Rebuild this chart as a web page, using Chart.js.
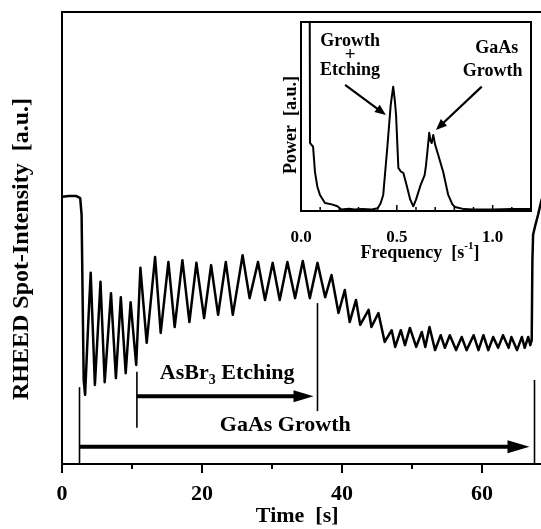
<!DOCTYPE html>
<html>
<head>
<meta charset="utf-8">
<script src="https://cdn.jsdelivr.net/npm/chart.js@4.4.0/dist/chart.umd.min.js"></script>
<style>
html,body{margin:0;padding:0;background:#fff;overflow:hidden;}
#wrap{position:relative;width:541px;height:529px;overflow:hidden;}
#main{position:absolute;left:0;top:0;}
#inset{position:absolute;left:270px;top:15px;}
</style>
</head>
<body>
<div id="wrap">
<canvas id="main" width="561" height="529"></canvas>
<canvas id="inset" width="271" height="250"></canvas>
</div>
<script>
// RHEED trace, time in s, intensity in a.u. (0..100 = plot height)
const time = [0,1,2,2.6,2.8,2.95,3.1,3.3,3.7,4.1,4.7,5.5,6.1,7.0,7.7,8.4,9.1,9.8,10.6,11.2,
  12.1,13.3,14.1,15.2,16.1,17.2,18.2,19.2,20.3,21.3,22.3,23.4,24.4,25.8,26.8,28.0,29.0,30.1,31.1,32.2,
  33.3,34.4,35.4,36.5,37.6,38.5,39.5,40.4,41.1,42.0,42.6,43.8,44.2,45.2,46.1,47.1,47.6,48.4,49.0,49.7,
  50.6,51.4,51.9,52.5,53.3,54.1,54.7,55.4,56.3,57.1,57.8,58.8,59.5,60.2,60.9,61.6,62.3,63.0,63.8,64.2,
  65.0,65.7,66.1,66.6,66.9,67.1,67.2,67.3,67.6,68.0,68.5,69.5];
const intensity = [59.1,59.3,59.3,58.8,55.1,36.3,18.6,15.3,29.6,42.3,17.5,40.3,18.1,37.8,19.0,36.9,20.1,35.8,21.9,43.4,
  26.8,45.8,29.0,44.7,30.3,45.1,31.4,44.5,32.3,44.0,33.0,44.7,33.0,46.2,36.7,44.7,36.3,44.5,36.3,44.7,
  36.7,44.9,36.7,44.5,36.9,41.8,33.4,38.5,31.4,36.3,30.8,34.1,30.3,33.4,27.0,29.6,25.9,29.6,26.3,30.1,
  25.9,29.2,25.9,30.3,25.2,28.5,25.7,28.5,25.2,28.1,25.2,28.5,25.2,28.5,25.2,28.1,25.7,28.5,25.7,28.1,
  25.2,28.1,25.7,28.1,26.3,27.4,45.1,50.7,52.7,55.1,58.4,61.7];
const timeTicks = [0,20,40,60];

// inset: power spectrum
const freq = [0.045,0.047,0.055,0.063,0.073,0.085,0.099,0.125,0.16,0.19,0.21,0.25,0.28,0.32,0.37,0.40,0.415,0.429,
  0.45,0.468,0.481,0.49,0.496,0.508,0.52,0.534,0.55,0.57,0.586,0.60,0.625,0.645,0.652,0.66,0.669,0.676,0.682,0.69,
  0.70,0.716,0.742,0.768,0.79,0.803,0.85,0.9,1.0,1.1,1.2];
const power = [130,36,35,34,20.6,13,8.5,4.2,3.5,2.5,0.8,1.2,0.8,1.0,0.8,1.5,4,8.5,
  33.3,56,65.8,58,50.8,22.8,21,20.1,14,6,2.5,6,14,19,24,32,41.4,37,36,40.2,
  35,29.6,20.6,8.5,3.5,2.1,1.0,0.8,0.8,1.0,1.0];
const freqTicks = [0.0,0.5,1.0];

// event times for the marker lines / arrows
const growthTimes = [2.5, 67.5];
const etchTimes = [10.7, 36.5];

const FONT = "'Liberation Serif','Times New Roman',serif";

function arrow(ctx,x1,y,x2,w,hl,hh){
  ctx.lineWidth = w;
  ctx.beginPath(); ctx.moveTo(x1,y); ctx.lineTo(x2-hl+2,y); ctx.stroke();
  ctx.beginPath(); ctx.moveTo(x2,y); ctx.lineTo(x2-hl,y-hh); ctx.lineTo(x2-hl,y+hh); ctx.closePath(); ctx.fill();
}
function arrowTo(ctx,x1,y1,x2,y2,w,hl,hh){
  const a = Math.atan2(y2-y1,x2-x1);
  ctx.save(); ctx.translate(x2,y2); ctx.rotate(a);
  const len = Math.hypot(x2-x1,y2-y1);
  ctx.lineWidth = w;
  ctx.beginPath(); ctx.moveTo(-len,0); ctx.lineTo(-hl+1,0); ctx.stroke();
  ctx.beginPath(); ctx.moveTo(0,0); ctx.lineTo(-hl,-hh); ctx.lineTo(-hl,hh); ctx.closePath(); ctx.fill();
  ctx.restore();
}
function vline(ctx,x,y1,y2){
  ctx.lineWidth = 1.6;
  ctx.beginPath(); ctx.moveTo(x,y1); ctx.lineTo(x,y2); ctx.stroke();
}

const mainDecor = {
  id:'mainDecor',
  afterDraw(chart){
    const ctx = chart.ctx, a = chart.chartArea, xs = chart.scales.x, ys = chart.scales.y;
    ctx.save();
    ctx.strokeStyle = '#000'; ctx.fillStyle = '#000';
    // frame
    ctx.lineWidth = 2;
    ctx.beginPath();
    ctx.moveTo(a.right,a.top); ctx.lineTo(a.left,a.top); ctx.lineTo(a.left,a.bottom); ctx.lineTo(a.right,a.bottom);
    ctx.stroke();
    // ticks
    xs.ticks.forEach(t=>{
      const px = xs.getPixelForValue(t.value);
      const len = timeTicks.includes(t.value) ? 9 : 5;
      ctx.beginPath(); ctx.moveTo(px,a.bottom); ctx.lineTo(px,a.bottom+len); ctx.stroke();
    });
    // GaAs growth
    const g0 = xs.getPixelForValue(growthTimes[0]), g1 = xs.getPixelForValue(growthTimes[1]);
    vline(ctx,g0,a.bottom,ys.getPixelForValue(17));
    vline(ctx,g1,a.bottom,ys.getPixelForValue(18.6));
    arrow(ctx,g0,ys.getPixelForValue(3.8),g1-5,4,22,6.5);
    // AsBr3 etching
    const e0 = xs.getPixelForValue(etchTimes[0]), e1 = xs.getPixelForValue(etchTimes[1]);
    vline(ctx,e0,ys.getPixelForValue(20.4),ys.getPixelForValue(8));
    vline(ctx,e1,ys.getPixelForValue(35.6),ys.getPixelForValue(11.7));
    arrow(ctx,e0,ys.getPixelForValue(15),e1-4,4,20,6);
    // texts
    ctx.textBaseline = 'middle'; ctx.textAlign = 'center';
    ctx.font = 'bold 22px ' + FONT;
    ctx.fillText('GaAs Growth', xs.getPixelForValue(31.9), ys.getPixelForValue(8.6));
    const big = 'bold 22px ' + FONT, small = 'bold 14px ' + FONT;
    ctx.font = big; const w1 = ctx.measureText('AsBr').width, w3 = ctx.measureText(' Etching').width;
    ctx.font = small; const w2 = ctx.measureText('3').width;
    let x = xs.getPixelForValue(23.6) - (w1+w2+w3)/2, y = ys.getPixelForValue(20.1);
    ctx.textAlign = 'left';
    ctx.font = big; ctx.fillText('AsBr', x, y);
    ctx.font = small; ctx.fillText('3', x+w1, y+7);
    ctx.font = big; ctx.fillText(' Etching', x+w1+w2, y);
    // axis titles
    ctx.textAlign = 'center';
    ctx.fillText('Time  [s]', xs.getPixelForValue(33.6), 516);
    ctx.font = 'bold 24px ' + FONT;
    ctx.translate(22,249); ctx.rotate(-Math.PI/2);
    ctx.fillText('RHEED Spot-Intensity  [a.u.]', 0, 0);
    ctx.restore();
  }
};

new Chart(document.getElementById('main'), {
  type:'line',
  data:{datasets:[{
    data: time.map((t,i)=>({x:t,y:intensity[i]})),
    borderColor:'#000', borderWidth:2.5, pointRadius:0, tension:0, borderJoinStyle:'round', fill:false
  }]},
  options:{
    responsive:false, animation:false, devicePixelRatio:1,
    layout:{padding:{top:12,right:9,left:0,bottom:0}},
    plugins:{legend:{display:false},tooltip:{enabled:false}},
    scales:{
      x:{type:'linear',min:0,max:70,grid:{display:false},border:{display:false},
        ticks:{stepSize:10,autoSkip:false,maxRotation:0,padding:9,color:'#000',
          font:{family:FONT,size:22,weight:'bold'},
          callback:v=>timeTicks.includes(v)?String(v):''},
        afterFit:s=>{s.height=65;}},
      y:{min:0,max:100,grid:{display:false},border:{display:false},ticks:{display:false},
        afterFit:s=>{s.width=62;}}
    }
  },
  plugins:[mainDecor]
});

const insetDecor = {
  id:'insetDecor',
  afterDraw(chart){
    const ctx = chart.ctx, a = chart.chartArea, xs = chart.scales.x, ys = chart.scales.y;
    ctx.save();
    ctx.strokeStyle = '#000'; ctx.fillStyle = '#000';
    ctx.lineWidth = 2;
    ctx.strokeRect(a.left,a.top,a.right-a.left,a.bottom-a.top);
    ctx.lineWidth = 1.5;
    xs.ticks.forEach(t=>{
      const px = xs.getPixelForValue(t.value);
      const major = freqTicks.some(f=>Math.abs(f-t.value)<1e-6);
      ctx.beginPath(); ctx.moveTo(px,a.bottom); ctx.lineTo(px,a.bottom-(major?6:4)); ctx.stroke();
    });
    // labels + arrows
    ctx.textAlign = 'center'; ctx.textBaseline = 'middle';
    ctx.font = 'bold 18px ' + FONT;
    const fx = v=>xs.getPixelForValue(v), py = v=>ys.getPixelForValue(v);
    ctx.fillText('Growth', fx(0.256), py(89.6));
    ctx.fillText('Etching', fx(0.256), py(74.6));
    ctx.fillText('GaAs', fx(1.021), py(86.2));
    ctx.fillText('Growth', fx(1.0), py(73.7));
    ctx.font = 'bold 19px ' + FONT;
    ctx.fillText('+', fx(0.256), py(82.6));
    arrowTo(ctx,fx(0.23),py(66.7),fx(0.443),py(50.8),2.2,11,4.5);
    arrowTo(ctx,fx(0.943),py(65.8),fx(0.704),py(42.9),2.2,11,4.5);
    // axis titles
    const big = 'bold 18px ' + FONT, sup = 'bold 11px ' + FONT;
    ctx.font = big; const w1 = ctx.measureText('Frequency  [s').width, w3 = ctx.measureText(']').width;
    ctx.font = sup; const w2 = ctx.measureText('-1').width;
    let x = 150 - (w1+w2+w3)/2;
    ctx.textAlign = 'left';
    ctx.font = big; ctx.fillText('Frequency  [s', x, 238);
    ctx.font = sup; ctx.fillText('-1', x+w1, 231);
    ctx.font = big; ctx.fillText(']', x+w1+w2, 238);
    ctx.textAlign = 'center';
    ctx.translate(21.7,110); ctx.rotate(-Math.PI/2);
    ctx.fillText('Power  [a.u.]', 0, 0);
    ctx.restore();
  }
};

new Chart(document.getElementById('inset'), {
  type:'line',
  data:{datasets:[{
    data: freq.map((f,i)=>({x:f,y:power[i]})),
    borderColor:'#000', borderWidth:2, pointRadius:0, tension:0, borderJoinStyle:'round', fill:false
  }]},
  options:{
    responsive:false, animation:false, devicePixelRatio:1,
    layout:{padding:{top:7,right:10,left:0,bottom:0}},
    plugins:{legend:{display:false},tooltip:{enabled:false}},
    scales:{
      x:{type:'linear',min:0,max:1.2,grid:{display:false},border:{display:false},
        ticks:{stepSize:0.1,autoSkip:false,maxRotation:0,padding:8,color:'#000',
          font:{family:FONT,size:17,weight:'bold'},
          callback:v=>freqTicks.some(f=>Math.abs(f-v)<1e-6)?v.toFixed(1):''},
        afterFit:s=>{s.height=54;}},
      y:{min:0,max:100,grid:{display:false},border:{display:false},ticks:{display:false},
        afterFit:s=>{s.width=31;}}
    }
  },
  plugins:[insetDecor]
});
</script>
</body>
</html>
